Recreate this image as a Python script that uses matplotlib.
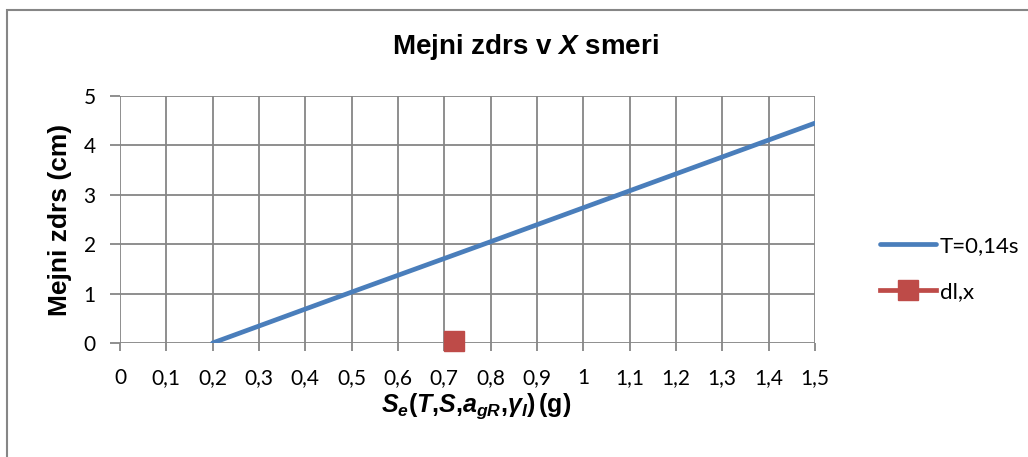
import matplotlib
matplotlib.use("Agg")
import matplotlib.pyplot as plt
from matplotlib.patches import Rectangle

# T=0,14s curve
se_values = [0.2, 0.5, 0.8, 1.1, 1.5]
slip_values = [0.0, 1.03, 2.05, 3.08, 4.45]
# dl,x point
dl_x = [0.72]
dl_y = [0.05]

x_ticks = [0, 0.1, 0.2, 0.3, 0.4, 0.5, 0.6, 0.7, 0.8, 0.9, 1.0, 1.1, 1.2, 1.3, 1.4, 1.5]
x_labels = ["0", "0,1", "0,2", "0,3", "0,4", "0,5", "0,6", "0,7", "0,8", "0,9", "1",
            "1,1", "1,2", "1,3", "1,4", "1,5"]
y_ticks = [0, 1, 2, 3, 4, 5]

plt.rcParams["mathtext.fontset"] = "custom"
plt.rcParams["mathtext.rm"] = "Liberation Sans:bold"
plt.rcParams["mathtext.it"] = "Liberation Sans:italic:bold"
plt.rcParams["mathtext.bf"] = "Liberation Sans:bold"

fig = plt.figure(figsize=(10.28, 4.57), dpi=100)
fig.patches.append(Rectangle((0.007, -0.01), 1.0, 0.988, transform=fig.transFigure,
                             fill=False, edgecolor="#868686", linewidth=1.5))
ax = fig.add_axes([0.1167, 0.2495, 0.676, 0.5405])

grid_col = "#868686"
ax.plot(se_values, slip_values, color="#4a7ebb", linewidth=3.4, label="T=0,14s",
        solid_capstyle="round", zorder=3)
ax.plot(dl_x, dl_y, color="#be4b48", marker="s", markersize=14, linewidth=3.4,
        label="dl,x", zorder=4, clip_on=False)

ax.set_xlim(0, 1.5)
ax.set_ylim(0, 5)
ax.set_xticks(x_ticks)
ax.set_xticklabels(x_labels)
ax.set_yticks(y_ticks)
ax.grid(True, color=grid_col, linewidth=1.3)
ax.set_axisbelow(True)
for s in ax.spines.values():
    s.set_visible(False)
ax.tick_params(axis="both", colors=grid_col, labelcolor="black", labelsize=15,
               width=1.3, labelfontfamily="Lato")
ax.tick_params(axis="y", length=7.5, pad=10)
ax.tick_params(axis="x", length=6, pad=12)

fig.text(0.511, 0.897, r"Mejni zdrs v $X$ smeri", fontsize=20, fontweight="bold",
         family="Liberation Sans", ha="center", va="center")
ax.set_ylabel("Mejni zdrs (cm)", fontsize=19, fontweight="bold",
              family="Liberation Sans")
ax.yaxis.set_label_coords(-0.069, 0.5)
ax.set_xlabel(r"$S_e(T{,}S{,}a_{gR}{,}\gamma_I)\,\mathrm{(g)}$", fontsize=18)
ax.xaxis.set_label_coords(0.512, -0.195)

ax.legend(loc="center left", bbox_to_anchor=(1.065, 0.30), frameon=False,
          labelspacing=1.15, handlelength=2.5, handletextpad=0.2,
          prop={"family": "Lato", "size": 16})

fig.savefig("out.png", dpi=100)
